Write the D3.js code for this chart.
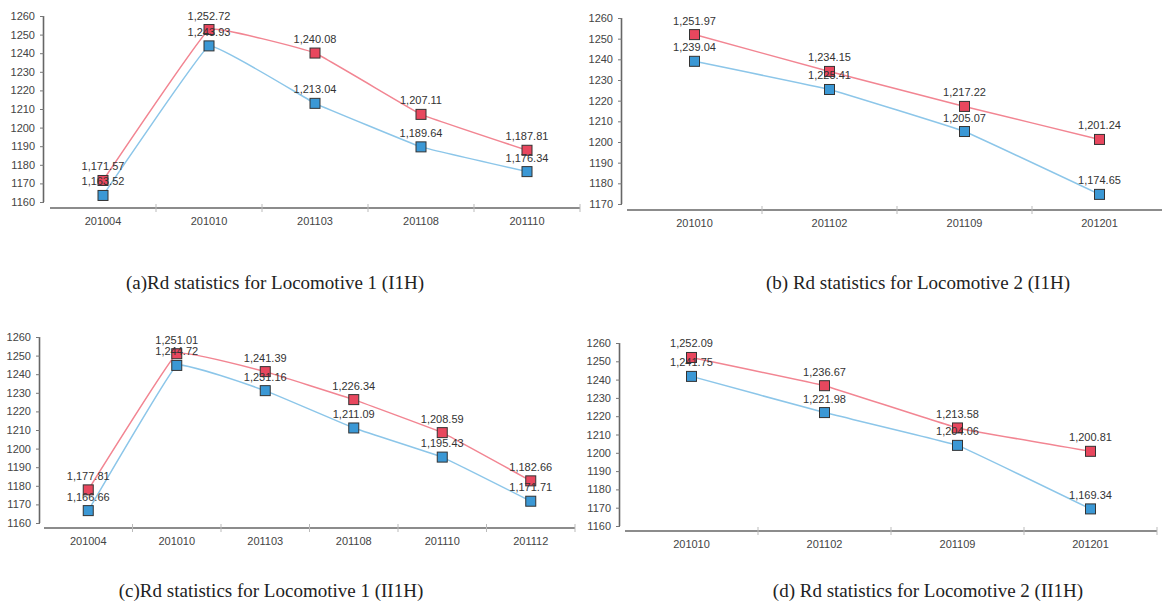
<!DOCTYPE html>
<html>
<head>
<meta charset="utf-8">
<script src="https://cdn.jsdelivr.net/npm/d3@7"></script>
<style>
  html, body { margin: 0; padding: 0; background: #fff; }
  svg { display: block; }
</style>
</head>
<body>
<svg id="chart" width="1162" height="607"></svg>
<script>
// ---- Data ----
const catsA = ["201004", "201010", "201103", "201108", "201110"];
const redA  = [1171.57, 1252.72, 1240.08, 1207.11, 1187.81];
const blueA = [1163.52, 1243.93, 1213.04, 1189.64, 1176.34];
const ticksA = [1160, 1170, 1180, 1190, 1200, 1210, 1220, 1230, 1240, 1250, 1260];

const catsB = ["201010", "201102", "201109", "201201"];
const redB  = [1251.97, 1234.15, 1217.22, 1201.24];
const blueB = [1239.04, 1225.41, 1205.07, 1174.65];
const ticksB = [1170, 1180, 1190, 1200, 1210, 1220, 1230, 1240, 1250, 1260];

const catsC = ["201004", "201010", "201103", "201108", "201110", "201112"];
const redC  = [1177.81, 1251.01, 1241.39, 1226.34, 1208.59, 1182.66];
const blueC = [1166.66, 1244.72, 1231.16, 1211.09, 1195.43, 1171.71];
const ticksC = [1160, 1170, 1180, 1190, 1200, 1210, 1220, 1230, 1240, 1250, 1260];

const catsD = ["201010", "201102", "201109", "201201"];
const redD  = [1252.09, 1236.67, 1213.58, 1200.81];
const blueD = [1241.75, 1221.98, 1204.06, 1169.34];
const ticksD = [1160, 1170, 1180, 1190, 1200, 1210, 1220, 1230, 1240, 1250, 1260];

const captions = [
  "(a)Rd statistics for Locomotive 1 (I1H)",
  "(b) Rd statistics for Locomotive 2 (I1H)",
  "(c)Rd statistics for Locomotive 1 (II1H)",
  "(d) Rd statistics for Locomotive 2 (II1H)"
];

// ---- Layout (geometry only) ----
const panels = [
  { cats: catsA, red: redA, blue: blueA, ticks: ticksA, caption: captions[0],
    yAxisX: 44, yTopPx: 16, yBotPx: 202, xAxisY: 208, xRange: [50, 580], capX: 275, capY: 289 },
  { cats: catsB, red: redB, blue: blueB, ticks: ticksB, caption: captions[1],
    yAxisX: 622, yTopPx: 18, yBotPx: 204, xAxisY: 210, xRange: [627, 1167], capX: 918, capY: 289 },
  { cats: catsC, red: redC, blue: blueC, ticks: ticksC, caption: captions[2],
    yAxisX: 40, yTopPx: 337, yBotPx: 523, xAxisY: 528, xRange: [44, 575], capX: 271, capY: 597 },
  { cats: catsD, red: redD, blue: blueD, ticks: ticksD, caption: captions[3],
    yAxisX: 620, yTopPx: 343, yBotPx: 526, xAxisY: 531, xRange: [625, 1157], capX: 928, capY: 597 }
];

const svg = d3.select("#chart");
const fmt = d3.format(",.2f");
const redLine = "#f28592", blueLine = "#8cc6e9";
const redFill = "#e8475e", blueFill = "#3b98d5";
const sansFont = "'Liberation Sans', Arial, sans-serif";

panels.forEach(p => {
  const g = svg.append("g");
  const ymin = d3.min(p.ticks), ymax = d3.max(p.ticks);
  const y = d3.scaleLinear().domain([ymin, ymax]).range([p.yBotPx, p.yTopPx]);
  const x = d3.scaleBand().domain(p.cats).range(p.xRange).paddingInner(0).paddingOuter(0);
  const cx = c => x(c) + x.bandwidth() / 2;

  // Y axis
  const yAxis = d3.axisLeft(y).tickValues(p.ticks).tickSize(4).tickPadding(5).tickFormat(d3.format("d"));
  const ya = g.append("g").attr("transform", `translate(${p.yAxisX},0)`).call(yAxis);
  ya.select(".domain").attr("d", `M-0.5,${p.yTopPx}V${p.yBotPx}`).attr("stroke", "#666").attr("stroke-width", 1.6);
  ya.selectAll(".tick line").attr("stroke", "#777");
  ya.selectAll(".tick text").attr("fill", "#444").style("font-family", sansFont).style("font-size", "11px");

  // X axis
  const xAxis = d3.axisBottom(x).tickSize(0).tickPadding(9);
  const xa = g.append("g").attr("transform", `translate(0,${p.xAxisY})`).call(xAxis);
  xa.select(".domain").attr("d", `M${p.xRange[0]},0H${p.xRange[1]}`).attr("stroke", "#666").attr("stroke-width", 1.6);
  xa.selectAll(".tick text").attr("fill", "#444").style("font-family", sansFont).style("font-size", "11px");
  // band separators
  const bounds = p.cats.slice(1).map(c => x(c)).concat([p.xRange[1]]);
  xa.selectAll("line.sep").data(bounds).enter().append("line")
    .attr("class", "sep").attr("x1", d => d).attr("x2", d => d)
    .attr("y1", -4).attr("y2", 4).attr("stroke", "#bbb").attr("stroke-width", 1);

  // Lines
  const line = d3.line().x((d, i) => cx(p.cats[i])).y(d => y(d)).curve(d3.curveCardinal.tension(0.8));
  g.append("path").datum(p.blue).attr("d", line).attr("fill", "none").attr("stroke", blueLine).attr("stroke-width", 1.5);
  g.append("path").datum(p.red).attr("d", line).attr("fill", "none").attr("stroke", redLine).attr("stroke-width", 1.5);

  const ms = 10;
  const drawSeries = (vals, fill) => {
    g.append("g").selectAll("rect").data(vals).enter().append("rect")
      .attr("x", (d, i) => cx(p.cats[i]) - ms / 2)
      .attr("y", d => y(d) - ms / 2)
      .attr("width", ms).attr("height", ms)
      .attr("fill", fill).attr("stroke", "#333").attr("stroke-width", 1);
  };
  const drawLabels = (vals) => {
    g.append("g").selectAll("text").data(vals).enter().append("text")
      .attr("x", (d, i) => cx(p.cats[i]))
      .attr("y", d => y(d) - 10)
      .attr("text-anchor", "middle")
      .attr("fill", "#333")
      .style("font-family", sansFont).style("font-size", "11px")
      .text(d => fmt(d));
  };
  drawSeries(p.blue, blueFill);
  drawSeries(p.red, redFill);
  drawLabels(p.red);
  drawLabels(p.blue);

  // Caption
  svg.append("text").attr("x", p.capX).attr("y", p.capY).attr("text-anchor", "middle")
    .attr("fill", "#222")
    .style("font-family", "'Liberation Serif', 'Times New Roman', serif").style("font-size", "19px")
    .text(p.caption);
});
</script>
</body>
</html>
